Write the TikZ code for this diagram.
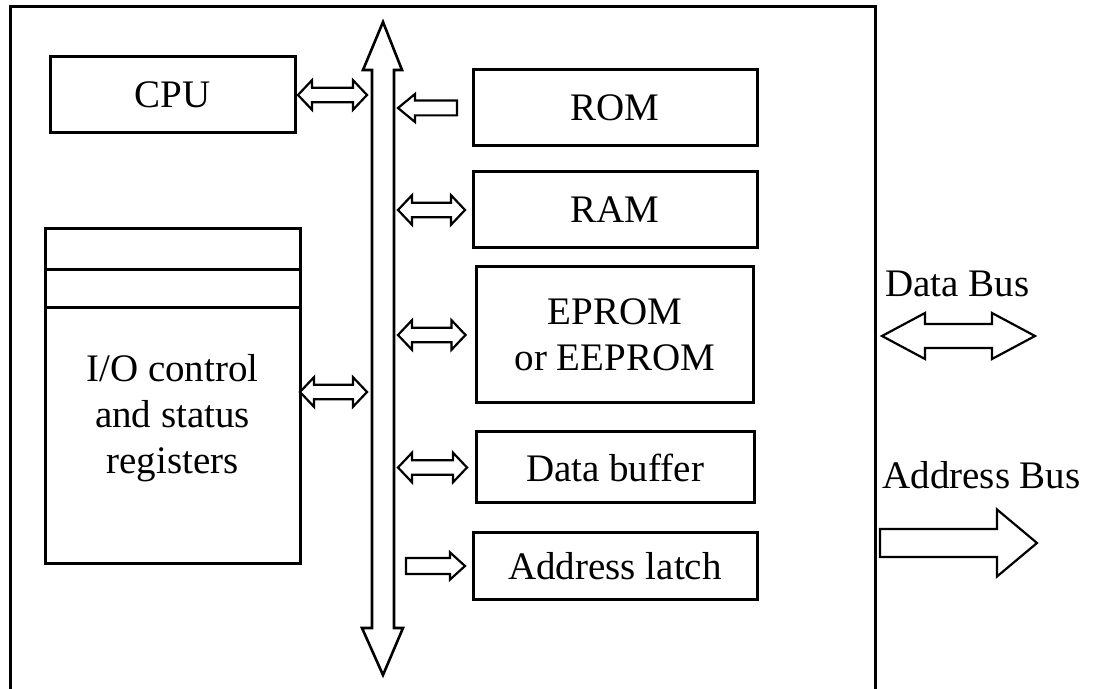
\documentclass[tikz,border=0pt]{standalone}
\usepackage{fontspec}
\setmainfont{Liberation Serif}
\usetikzlibrary{positioning,calc}
\tikzset{
  blockbox/.style={rectangle,draw=black,line width=1.5pt,outer sep=0pt,inner sep=0pt,align=center,font=\fontsize{19.5pt}{23pt}\selectfont},
  iotext/.style={align=center,inner sep=0pt,font=\fontsize{19.5pt}{23pt}\selectfont},
  buslabel/.style={inner sep=0pt,font=\fontsize{19.5pt}{23pt}\selectfont},
  busline/.style={draw=black,line width=1.3pt,line join=miter,fill=white},
  arrsw/.store in=\arrsw, arrhw/.store in=\arrhw, arrhl/.store in=\arrhl,
  arrsw=3.6pt, arrhw=7.4pt, arrhl=7pt,
  twoway/.style={draw=black,line width=1.1pt,fill=white,to path={let \p1=(\tikztostart),\p2=(\tikztotarget),\n1={sign(\x2-\x1)} in
    (\x1,\y1) -- (\x1+\n1*\arrhl,\y1+\arrhw) -- (\x1+\n1*\arrhl,\y1+\arrsw) -- (\x2-\n1*\arrhl,\y1+\arrsw) -- (\x2-\n1*\arrhl,\y1+\arrhw) -- (\x2,\y1)
    -- (\x2-\n1*\arrhl,\y1-\arrhw) -- (\x2-\n1*\arrhl,\y1-\arrsw) -- (\x1+\n1*\arrhl,\y1-\arrsw) -- (\x1+\n1*\arrhl,\y1-\arrhw) -- cycle}},
  oneway/.style={draw=black,line width=1.1pt,fill=white,to path={let \p1=(\tikztostart),\p2=(\tikztotarget),\n1={sign(\x2-\x1)} in
    (\x1,\y1+\arrsw) -- (\x2-\n1*\arrhl,\y1+\arrsw) -- (\x2-\n1*\arrhl,\y1+\arrhw) -- (\x2,\y1)
    -- (\x2-\n1*\arrhl,\y1-\arrhw) -- (\x2-\n1*\arrhl,\y1-\arrsw) -- (\x1,\y1-\arrsw) -- cycle}}
}
\begin{document}
\begin{tikzpicture}[x=0.5pt,y=-0.5pt]
\useasboundingbox (0,0) rectangle (1098,689);
\draw[line width=1.5pt] (10,7) rectangle (875,693);
\node[blockbox,minimum width=122.5pt,minimum height=38pt] (cpu) at (172.5,95) {CPU};
\node[blockbox,minimum width=127.5pt,minimum height=20.5pt] (reg1) at (172.5,249.5) {};
\node[blockbox,minimum width=127.5pt,minimum height=19pt,below=0pt of reg1] (reg2) {};
\node[blockbox,minimum width=127.5pt,minimum height=127.5pt,below=0pt of reg2,
  label={[iotext,yshift=8.75pt]center:{I/O control\\and status\\registers}}] (io) {};
\node[blockbox,minimum width=142pt,minimum height=38pt] (rom) at (615,108) {ROM};
\node[blockbox,minimum width=142pt,minimum height=38pt,below=13pt of rom] (ram) {RAM};
\node[blockbox,minimum width=138.5pt,minimum height=68pt,below=9.5pt of ram] (eprom) {EPROM\\or EEPROM};
\node[blockbox,minimum width=139pt,minimum height=35.5pt,below=14.5pt of eprom] (dbuf) {Data buffer};
\node[blockbox,minimum width=142pt,minimum height=33pt,below=15pt of dbuf] (alatch) {Address latch};
\coordinate (bustop) at (383,22);
\coordinate (busbot) at (383,675);
\coordinate (busL) at (367,22);
\coordinate (busR) at (398,22);
\draw[busline] (bustop) -- (363,70) -- (372,70) -- (372,628) -- (362,628) -- (busbot)
  -- (403,628) -- (394,628) -- (394,70) -- (402,70) -- cycle;
\draw[twoway] ([xshift=1.5pt]cpu.east) to (cpu.east -| busL);
\draw[oneway,arrsw=3.7pt,arrhw=7pt,arrhl=8.5pt] ([xshift=-8pt]rom.west) to (rom.west -| busR);
\draw[twoway] (ram.west -| busR) to ([xshift=-4pt]ram.west);
\draw[twoway] (eprom.west -| busR) to ([xshift=-5.5pt]eprom.west);
\draw[twoway] (dbuf.west -| busR) to ([xshift=-4.5pt]dbuf.west);
\draw[oneway,arrsw=4pt,arrhw=6.8pt,arrhl=7.5pt] ([xshift=4pt]alatch.west -| busR) to ([xshift=-4pt]alatch.west);
\draw[twoway] ([yshift=21.75pt]io.east) to ([yshift=21.75pt]io.east -| busL);
\node[buslabel,anchor=base west] (dbname) at (885,297) {Data Bus};
\coordinate (dbL) at (882,336);
\coordinate (dbR) at (1035,336);
\draw[twoway,arrsw=6pt,arrhw=11.5pt,arrhl=21.5pt] (dbL) to (dbR);
\node[buslabel,anchor=base west] (abname) at (882,489) {Address Bus};
\coordinate (abL) at (880,543);
\coordinate (abR) at (1037,543);
\draw[oneway,arrsw=7pt,arrhw=16.75pt,arrhl=20pt] (abL) to (abR);
\end{tikzpicture}
\end{document}
